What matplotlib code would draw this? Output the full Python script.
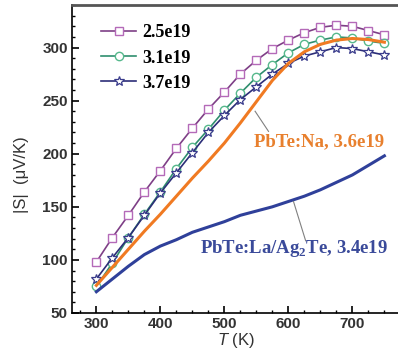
import matplotlib.pyplot as plt
import numpy as np

plt.rcParams["mathtext.fontset"] = "custom"
plt.rcParams["mathtext.bf"] = "Liberation Serif:bold"
plt.rcParams["mathtext.rm"] = "Liberation Serif"
plt.rcParams["mathtext.it"] = "Liberation Sans:italic"

# temperatures (K)
temp = [300, 325, 350, 375, 400, 425, 450, 475, 500, 525,
        550, 575, 600, 625, 650, 675, 700, 725, 750]

s_25 = [98, 121, 142, 164, 184, 205, 224, 242, 258, 275,
        288, 299, 307, 314, 319, 321, 320, 316, 312]
s_31 = [75, 97, 121, 143, 164, 186, 206, 223, 241, 257,
        272, 284, 295, 303, 307, 310, 309, 306, 304]
s_37 = [82, 102, 121, 142, 163, 182, 201, 220, 236, 251,
        263, 275, 285, 292, 296, 300, 299, 296, 293]
s_na = [76, 93, 110, 127, 143, 160, 177, 193, 210, 229,
        249, 269, 285, 296, 303, 307, 308.5, 307.5, 305]
s_la = [70, 82, 94, 105, 113, 119, 126, 131, 136, 142,
        146, 150, 155, 160, 166, 173, 180, 189, 198]

labels = ["2.5e19", "3.1e19", "3.7e19"]

fig = plt.figure(figsize=(3.98, 3.61), dpi=100)
ax = fig.add_axes([0.181, 0.133, 0.825, 0.853])

serif = "Liberation Serif"
sans = "Liberation Sans"

ax.plot(temp, s_25, color="#7e3f86", lw=1.2, marker="s", ms=6,
        mfc="white", mec="#b46ab8", mew=1.0, label=labels[0])
ax.plot(temp, s_31, color="#2f8f6e", lw=1.2, marker="o", ms=6,
        mfc="white", mec="#56b88c", mew=1.0, label=labels[1])
ax.plot(temp, s_37, color="#2c2e78", lw=1.2, marker="*", ms=7,
        mfc="white", mec="#3a3c8c", mew=0.9, label=labels[2])
ax.plot(temp, s_na, color="#f07a22", lw=2.2)
ax.plot(temp, s_la, color="#2f409a", lw=2.2)

# annotations
ax.plot([548, 569], [240, 221], color="#808080", lw=0.8)
ax.text(648, 211, "PbTe:Na, 3.6e19", color="#e8802e", ha="center",
        va="center", fontsize=13.5, fontweight="bold", family=serif)
ax.plot([608, 627], [155, 118], color="#808080", lw=0.8)
ax.text(608, 111, "PbTe:La/Ag$_\\mathbf{2}$Te, 3.4e19", color="#3a4a9a",
        ha="center", va="center", fontsize=13.5, fontweight="bold",
        family=serif)

ax.set_xlim(262, 775)
ax.set_ylim(50, 340)
ax.set_xticks([300, 400, 500, 600, 700])
ax.set_yticks([50, 100, 150, 200, 250, 300])
ax.set_xticks(np.arange(275, 776, 25), minor=True)
ax.set_yticks(np.arange(50, 341, 10), minor=True)
ax.tick_params(which="both", direction="in", top=False, right=False)
ax.tick_params(which="major", length=5, width=1.2, labelsize=11, pad=3)
ax.tick_params(which="minor", length=2.5, width=1.0)
for lab in ax.get_xticklabels() + ax.get_yticklabels():
    lab.set_fontfamily(sans)
    lab.set_fontweight("bold")
    lab.set_color("#333333")

ax.spines["left"].set_linewidth(1.2)
ax.spines["bottom"].set_linewidth(1.2)
ax.spines["top"].set_linewidth(2.0)
ax.spines["top"].set_color("#555555")
ax.spines["right"].set_visible(False)

ax.set_ylabel("|S|  (μV/K)", fontsize=12, family=sans, color="#333333")
ax.yaxis.set_label_coords(-0.13, 0.45)
ax.set_xlabel("$\\mathit{T}$ (K)", fontsize=12, family=sans,
              color="#333333", labelpad=0)

leg = ax.legend(loc="upper left", bbox_to_anchor=(0.04, 0.99), frameon=False,
                handlelength=1.9, handletextpad=0.35, labelspacing=0.45,
                prop={"family": serif, "weight": "bold", "size": 13})

fig.savefig("out.png", dpi=100)
